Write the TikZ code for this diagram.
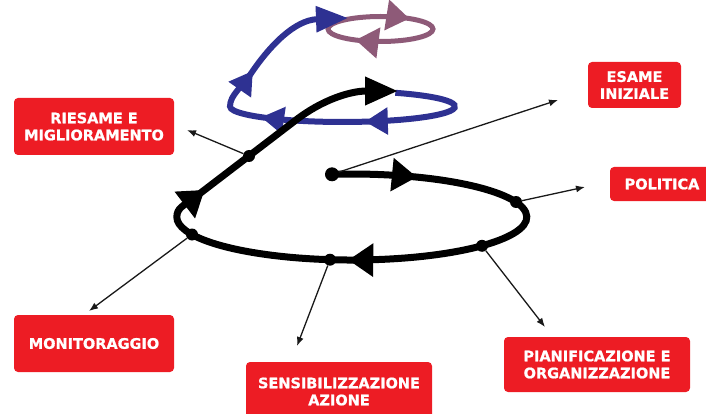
\documentclass[tikz,border=0pt]{standalone}
\usepackage{fontspec}
\usepackage{tikz}
\usetikzlibrary{arrows,arrows.meta}
\usetikzlibrary{decorations.markings}
\newfontfamily\boxfont{DejaVu Sans}[BoldFeatures={FakeBold=1}]
\tikzset{>={Latex[length=9pt,width=7pt]}}
\definecolor{r1}{HTML}{ED1C24}
\definecolor{b1}{HTML}{2E3192}
\definecolor{m1}{HTML}{8E5A78}
\tikzstyle{fase}=[fill=r1,text=white,rounded corners=4pt,align=center,inner sep=2pt,font=\boxfont\bfseries\fontsize{14.5}{17}\selectfont]
\tikzstyle{dot}=[circle,fill=black,inner sep=0pt,minimum size=12pt]
\tikzstyle{link}=[->,line width=1.3pt,black!90]
\tikzset{mid tips/.style={postaction={decorate},decoration={markings,#1}}}
\newcommand\tipK{\arrow{Triangle[length=25pt,width=32pt]}}
\newcommand\tipB{\arrow{Triangle[length=23pt,width=26pt]}}
\newcommand\tipM{\arrow{Triangle[length=23pt,width=30pt]}}

\begin{document}
\begin{tikzpicture}[x=1pt,y=-1pt]
  \useasboundingbox (0,0) rectangle (706,414);
  % cicli superiori
  \draw[m1,line width=5pt,mid tips={mark=at position 29pt with {\tipM},mark=at position 137pt with {\tipM}}]
    (380.5,16.5) arc[start angle=-90,end angle=270,x radius=52.5,y radius=12.5];
  \draw[b1,line width=6pt,-{Triangle[length=32pt,width=25pt]},
        mid tips={mark=at position 156pt with {\tipB},mark=at position 260pt with {\tipB},mark=at position 337pt with {\tipB}}]
    (395.3,92.8) arc[start angle=-62,end angle=180,x radius=112.5,y radius=15.5]
    .. controls (230,95) and (242,87) .. (250,75)
    .. controls (270,45) and (295,20) .. (348,18);
  % spirale
  \draw[line width=7pt,-{Triangle[length=33pt,width=27pt]},
        mid tips={mark=at position 85pt with {\tipK},mark=at position 398pt with {\tipK},mark=at position 622pt with {\tipK}}]
    (332,174.3) arc[start angle=-96.5,end angle=180,x radius=175,y radius=43]
    .. controls (177,208) and (183,206) .. (194,198) -- (296,120)
    .. controls (322,100) and (350,91) .. (398,91);
  \node[dot,minimum size=14pt] (d0) at (332,174.3) {};
  \node[dot] (d1) at (516,202) {};
  \node[dot] (d2) at (482,245.8) {};
  \node[dot] (d3) at (330,259.7) {};
  \node[dot] (d4) at (192,234.5) {};
  \node[dot] (d5) at (249,156) {};
  % fasi
  \node[fase,minimum width=160pt,minimum height=57pt] (riesame) at (94,126.5) {RIESAME E\\MIGLIORAMENTO};
  \node[fase,minimum width=93pt,minimum height=46pt] (esame) at (634.5,85) {ESAME\\INIZIALE};
  \node[fase,minimum width=104pt,minimum height=34pt] (politica) at (662,184) {POLITICA};
  \node[fase,minimum width=186pt,minimum height=55pt] (pianif) at (597,364.5) {PIANIFICAZIONE E\\ORGANIZZAZIONE};
  \node[fase,minimum width=186pt,minimum height=59pt] (sensib) at (339,391.5) {SENSIBILIZZAZIONE\\AZIONE};
  \node[fase,minimum width=160pt,minimum height=57pt] (monit) at (94,343.5) {MONITORAGGIO};
  \coordinate (tEsame) at (558,100);
  \coordinate (tPolitica) at (585,187);
  \coordinate (tPianif) at (545,327);
  \coordinate (tSensib) at (297,346);
  \coordinate (tMonit) at (89,311);
  \coordinate (tRiesame) at (187,130);
  \draw[link] (d0) -- (tEsame);
  \draw[link] (d1) -- (tPolitica);
  \draw[link] (d2) -- (tPianif);
  \draw[link] (d3) -- (tSensib);
  \draw[link] (d4) -- (tMonit);
  \draw[link] (d5) -- (tRiesame);
\end{tikzpicture}
\end{document}
